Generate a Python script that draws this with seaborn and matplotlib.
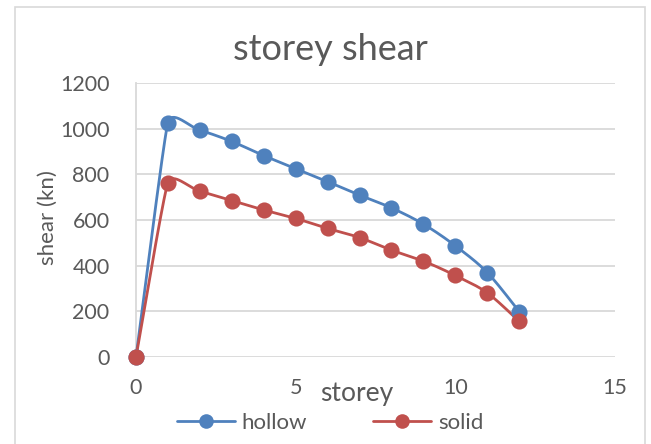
import numpy as np
import pandas as pd
import seaborn as sns
import matplotlib
matplotlib.use("Agg")
import matplotlib.pyplot as plt
from matplotlib.lines import Line2D
from matplotlib.patches import Rectangle

# Storey shear data
storey = [0, 1, 2, 3, 4, 5, 6, 7, 8, 9, 10, 11, 12]
hollow = [0, 1027, 993, 944, 882, 825, 768, 709, 653, 582, 487, 370, 199]
solid = [0, 763, 726, 685, 644, 607, 563, 523, 468, 420, 357, 281, 156]
series_names = ["hollow", "solid"]
series_colors = ["#4F81BD", "#C0504D"]
x_ticks = [0, 5, 10, 15]
y_ticks = [0, 200, 400, 600, 800, 1000, 1200]

sns.set_theme(style="white")
plt.rcParams["font.family"] = ["Lato", "DejaVu Sans"]

text_color = "#595959"
grid_color = "#D9D9D9"


def smooth_curve(ax, xs, ys, n=40):
    """Bezier smoothing through every point, computed in screen space.
    Tangent lengths shrink next to short segments to limit overshoot."""
    pts = ax.transData.transform(np.column_stack([xs, ys]).astype(float))
    ext = np.vstack([pts[0], pts, pts[-1]])
    out = []
    t = np.linspace(0, 1, n)[:, None]

    def factor(a, b):
        if min(a, b) <= 0:
            return 1.0 / 6.0
        return np.sqrt(min(a, b) / max(a, b)) / 6.0

    for i in range(1, len(ext) - 2):
        p0, p1, p2, p3 = ext[i - 1], ext[i], ext[i + 1], ext[i + 2]
        d01 = np.linalg.norm(p1 - p0)
        d12 = np.linalg.norm(p2 - p1)
        d23 = np.linalg.norm(p3 - p2)
        b1 = p1 + (p2 - p0) * factor(d01, d12)
        b2 = p2 - (p3 - p1) * factor(d12, d23)
        seg = ((1 - t) ** 3) * p1 + 3 * ((1 - t) ** 2) * t * b1 + 3 * (1 - t) * t ** 2 * b2 + t ** 3 * p2
        out.append(seg if i == 1 else seg[1:])
    arr = ax.transData.inverted().transform(np.vstack(out))
    return arr[:, 0], arr[:, 1]


df = pd.DataFrame({"storey": storey, "hollow": hollow, "solid": solid})
long_df = df.melt(id_vars="storey", var_name="type", value_name="shear")

fig = plt.figure(figsize=(6.51, 4.44), dpi=100)
W, H = 651, 444
ax = fig.add_axes([136 / W, 1 - 357 / H, (615 - 136) / W, (357 - 83) / H])
ax.set_xlim(0, 15)
ax.set_ylim(0, 1200)

# chart-area frame
fig.patches.append(Rectangle((15 / W, -0.05), (645 - 15) / W, 1 - 7 / H + 0.05,
                             transform=fig.transFigure, fill=False,
                             edgecolor=grid_color, linewidth=1.2, zorder=0))

for name, color in zip(series_names, series_colors):
    sub = long_df[long_df["type"] == name]
    sx, sy = smooth_curve(ax, sub["storey"].values, sub["shear"].values)
    ax.plot(sx, sy, color=color, linewidth=2.0, solid_capstyle="round",
            zorder=3, clip_on=False)
    sns.scatterplot(data=sub, x="storey", y="shear", color=color, s=135,
                    edgecolor=color, linewidth=0, ax=ax, zorder=4,
                    legend=False, clip_on=False)

ax.set_xlim(0, 15)
ax.set_ylim(0, 1200)
ax.set_xticks(x_ticks)
ax.set_yticks(y_ticks)
ax.yaxis.grid(True, color=grid_color, linewidth=1.3)
ax.xaxis.grid(False)
ax.set_axisbelow(True)
for side in ["top", "right", "bottom"]:
    ax.spines[side].set_visible(False)
ax.spines["left"].set_color(grid_color)
ax.spines["left"].set_linewidth(1.3)
ax.tick_params(axis="both", length=0, labelsize=15.5, labelcolor=text_color)
ax.tick_params(axis="y", pad=19)
ax.tick_params(axis="x", pad=15)

fig.text(330 / W, 1 - 50 / H, "storey shear", fontsize=26, color=text_color,
         ha="center", va="center")

ax.set_xlabel("storey", fontsize=19, color=text_color)
ax.xaxis.set_label_coords((357 - 136) / 479, -(393 - 357) / 274)
ax.xaxis.label.set_va("center")
ax.set_ylabel("shear (kn)", fontsize=16, color=text_color)
ax.yaxis.set_label_coords((48 - 136) / 479, (357 - 218) / 274)
ax.yaxis.label.set_va("center")

handles = [Line2D([0], [0], color=c, linewidth=2.0, marker="o", markersize=10.5,
                  markeredgewidth=0) for c in series_colors]
fig.legend(handles, series_names, loc="center", ncol=2, frameon=False,
           bbox_to_anchor=(330 / W, 1 - 423 / H), fontsize=16,
           labelcolor=text_color, handlelength=2.6, handletextpad=0.3,
           columnspacing=3.0)

fig.savefig("out.png", dpi=100)
